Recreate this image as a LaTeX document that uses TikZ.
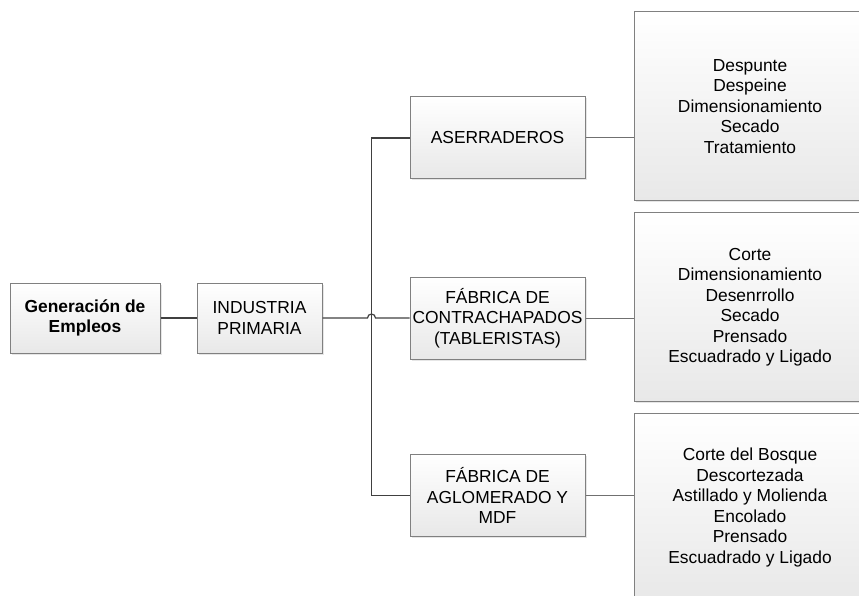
\documentclass[tikz,border=0pt]{standalone}
\usepackage{fontspec}
\setmainfont{Liberation Sans}
\usepackage{xcolor}
\usepackage{tikz}
\usetikzlibrary{positioning,calc,shadows}

\definecolor{borde}{RGB}{128,128,128}
\definecolor{linea}{RGB}{64,64,64}
\definecolor{fondo}{RGB}{232,232,232}

\tikzset{
  caja/.style={draw=borde, line width=1pt, top color=white, bottom color=fondo,
    align=center, inner sep=0pt, font=\fontsize{17.4}{20.5}\selectfont,
    drop shadow={shadow xshift=1.5pt, shadow yshift=-1.5pt, opacity=0.2}},
  chica/.style={caja, minimum height=70pt},
  media/.style={caja, minimum width=175pt, minimum height=82pt},
  lista/.style={caja, minimum width=232pt, minimum height=189pt},
  conn/.style={draw=linea, line width=1.2pt},
  connclaro/.style={draw=linea!75, line width=1pt}
}

\begin{document}
\begin{tikzpicture}[x=1pt,y=-1pt]
\useasboundingbox (0,0) rectangle (859,596);

% Left boxes
\node[chica, minimum width=150pt, font=\fontsize{17.4}{20.5}\selectfont\bfseries] (gen) at (85,318) {Generación de\\Empleos};
\node[chica, minimum width=125pt] (ind) at (259.5,318) {INDUSTRIA\\PRIMARIA};

% Middle boxes
\node[media] (ase) at (497.5,138) {ASERRADEROS};
\node[media] (contra) at (497.5,318) {FÁBRICA DE\\CONTRACHAPADOS\\(TABLERISTAS)};
\node[media] (agl) at (497.5,495.5) {FÁBRICA DE\\AGLOMERADO Y\\MDF};

% Right boxes (cut at the page edge)
\node[lista] (rA) at (750,106.5) {Despunte\\Despeine\\Dimensionamiento\\Secado\\Tratamiento};
\node[lista] (rB) at (750,307) {Corte\\Dimensionamiento\\Desenrrollo\\Secado\\Prensado\\Escuadrado y Ligado};
\node[lista] (rC) at (750,507.5) {Corte del Bosque\\Descortezada\\Astillado y Molienda\\Encolado\\Prensado\\Escuadrado y Ligado};

% Connectors
\draw[conn] (gen) -- (ind);
\draw[conn] (ase.west) -- ++(-38,0) |- (agl.west);
\draw[conn] (ind.east) -- ($(ase.west |- ind.east)+(-42,0)$) arc[start angle=180, end angle=360, radius=4] -- (contra.west);

\draw[connclaro] (ase.east) -- (ase.east -| rA.west);
\draw[connclaro] (contra.east) -- (contra.east -| rB.west);
\draw[connclaro] (agl.east) -- (agl.east -| rC.west);

\end{tikzpicture}
\end{document}
